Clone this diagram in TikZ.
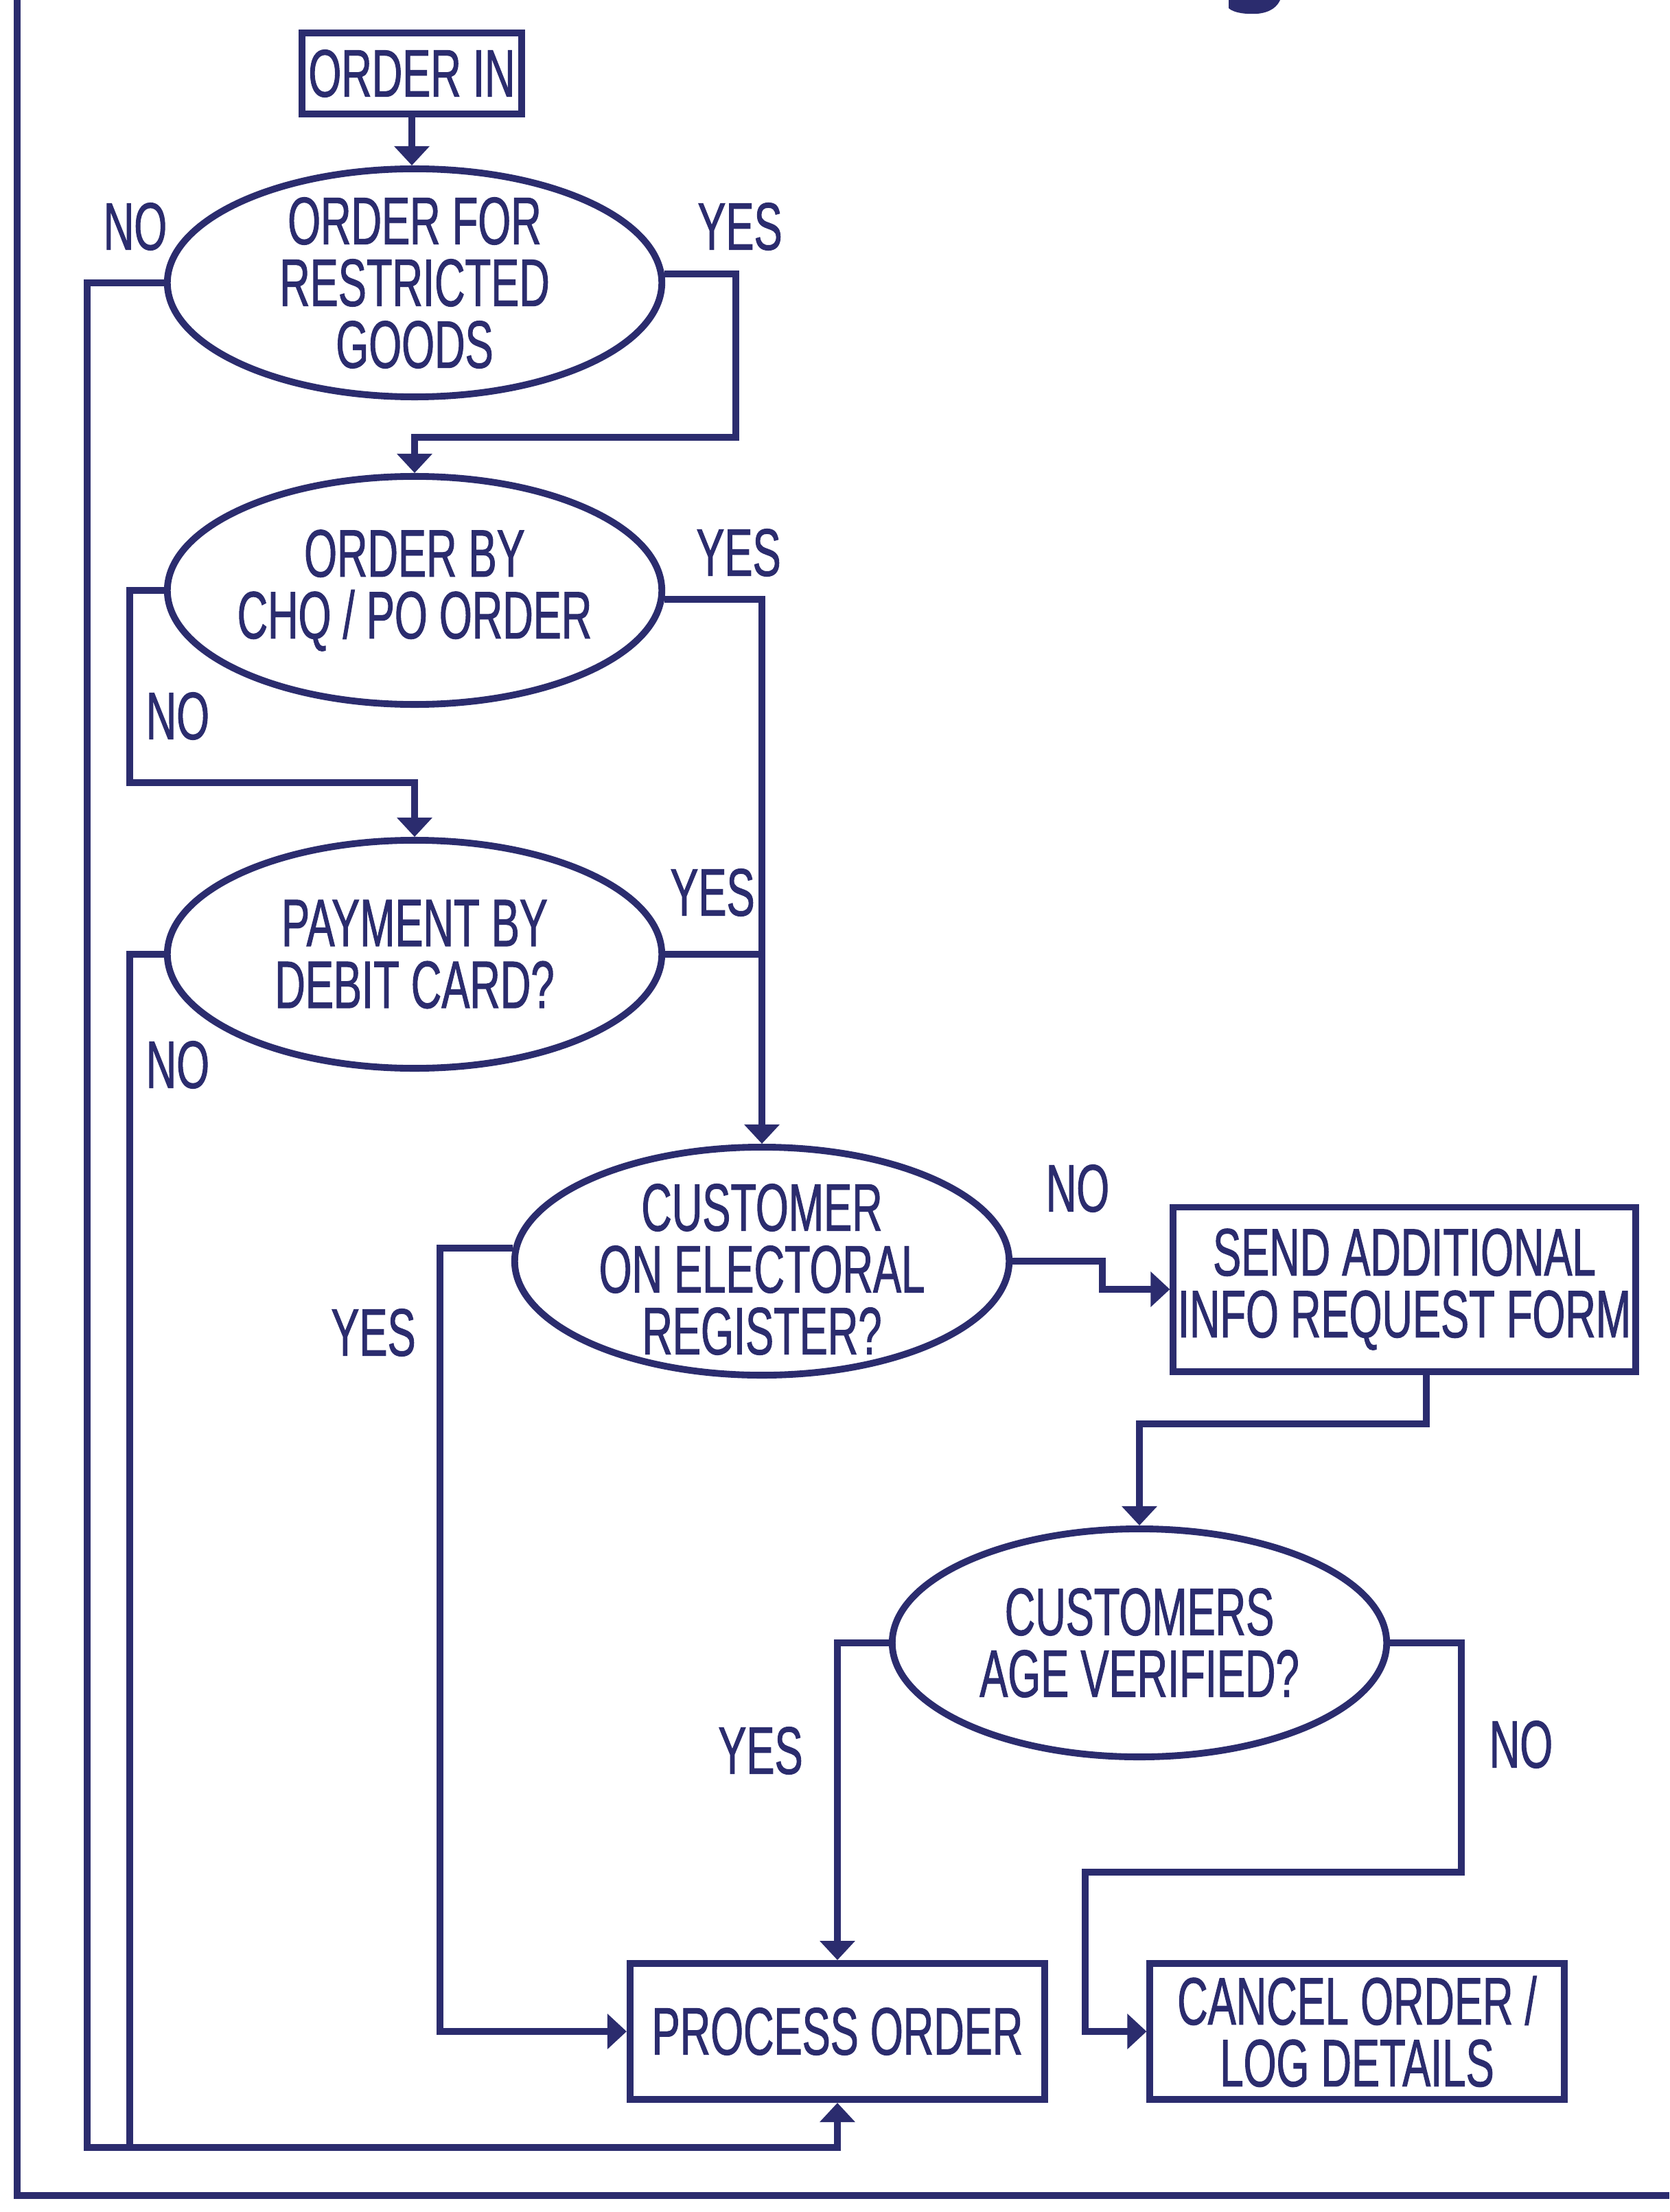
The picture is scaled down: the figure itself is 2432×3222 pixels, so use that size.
\documentclass[tikz,border=0pt]{standalone}
\usepackage{fontspec}
\setmainfont{Liberation Sans}[FakeStretch=0.63,FakeBold=1.0]
\usetikzlibrary{shapes.geometric,arrows.meta}
\definecolor{navy}{RGB}{43,44,110}
\begin{document}
\begin{tikzpicture}[x=0.01cm,y=-0.01cm,
  every node/.style={font=\fontsize{27.8pt}{25.6pt}\selectfont, text=navy},
  ln/.style={draw=navy, line width=2.8pt},
  arr/.style={ln, -{Triangle[width=0.5cm,length=0.28cm]}},
  dec/.style={ellipse, draw=navy, line width=2.8pt, inner sep=0pt, minimum width=7.2cm, minimum height=3.32cm},
  box/.style={rectangle, draw=navy, line width=2.8pt, inner sep=0pt, align=center},
  txt/.style={align=center, inner sep=0pt},
  lbl/.style={inner sep=0pt}]
\useasboundingbox (0,0) rectangle (2432,3222);
\fill[white] (0,0) rectangle (2432,3222);
% remnant of title letter
\fill[navy] (1790,0) -- (1790,12) .. controls (1798,19) and (1815,21) .. (1832,20) .. controls (1852,18) and (1861,9) .. (1865,0) -- cycle;
% frame
\draw[ln] (25,0) -- (25,3198) -- (2432,3198);

% nodes
\node[box, minimum width=3.2cm, minimum height=1.18cm] (oin) at (600,107) {ORDER IN};
\node[dec, label={[txt]center:{ORDER FOR\\RESTRICTED\\GOODS}}] (e1) at (604,412) {};
\node[dec, label={[txt]center:{ORDER BY\\CHQ / PO ORDER}}] (e2) at (604,860) {};
\node[dec, label={[txt]center:{PAYMENT BY\\DEBIT CARD?}}] (e3) at (604,1390) {};
\node[dec, label={[txt, yshift=-0.12cm]center:{CUSTOMER\\ON ELECTORAL\\REGISTER?}}] (e4) at (1110,1837) {};
\node[box, minimum width=6.73cm, minimum height=2.39cm] (send) at (2046,1878) {SEND ADDITIONAL\\INFO REQUEST FORM};
\node[dec, label={[txt]center:{CUSTOMERS\\AGE VERIFIED?}}] (e5) at (1660,2393) {};
\node[box, minimum width=6.04cm, minimum height=1.98cm] (proc) at (1220,2959) {PROCESS ORDER};
\node[box, minimum width=6.03cm, minimum height=1.98cm] (canc) at (1977,2959) {CANCEL ORDER /\\LOG DETAILS};

% helper coordinates
\coordinate (bl) at (127,3128);
\coordinate (b2) at (189,3128);
\coordinate (r1) at (1072,637);
\coordinate (n2) at (189,1140);
\coordinate (y4) at (641,2959);
\coordinate (k4) at (1606,1837);
\coordinate (s5) at (2078,2074);
\coordinate (n5a) at (2129,2727);
\coordinate (n5b) at (1581,2727);

% connectors
\draw[arr] (oin.south) -- (oin.south |- e1.north);
\draw[arr] (e1.west) -| (bl) -| (proc.south);
\draw[arr] (e1.2) -| (r1) -| (e2.north);
\draw[arr] (e2.-2) -| (e4.north);
\draw[arr] (e2.west) -| (n2) -| (e3.north);
\draw[ln] (e3.east) -- (e3.east -| e4.north);
\draw[ln] (e3.west) -| (b2);
\draw[arr] (e4.177) -| (y4) -- (proc.west);
\draw[arr] (e4.east) -| (k4) |- (send.west);
\draw[arr] (s5 |- send.south) -- (s5) -| (e5.north);
\draw[arr] (e5.west) -| (proc.north);
\draw[arr] (e5.east) -| (n5a) -- (n5b) |- (canc.west);

% labels
\node[lbl] (l1n) at (197,330) {NO};
\node[lbl] (l1y) at (1078,330) {YES};
\node[lbl] (l2y) at (1076,805) {YES};
\node[lbl, anchor=west] (l2n) at (212,1043) {NO};
\node[lbl] (l3y) at (1038,1300) {YES};
\node[lbl, anchor=west] (l3n) at (212,1551) {NO};
\node[lbl] (l4y) at (544,1941) {YES};
\node[lbl] (l4n) at (1570,1731) {NO};
\node[lbl] (l5y) at (1108,2550) {YES};
\node[lbl] (l5n) at (2216,2541) {NO};
\end{tikzpicture}
\end{document}
